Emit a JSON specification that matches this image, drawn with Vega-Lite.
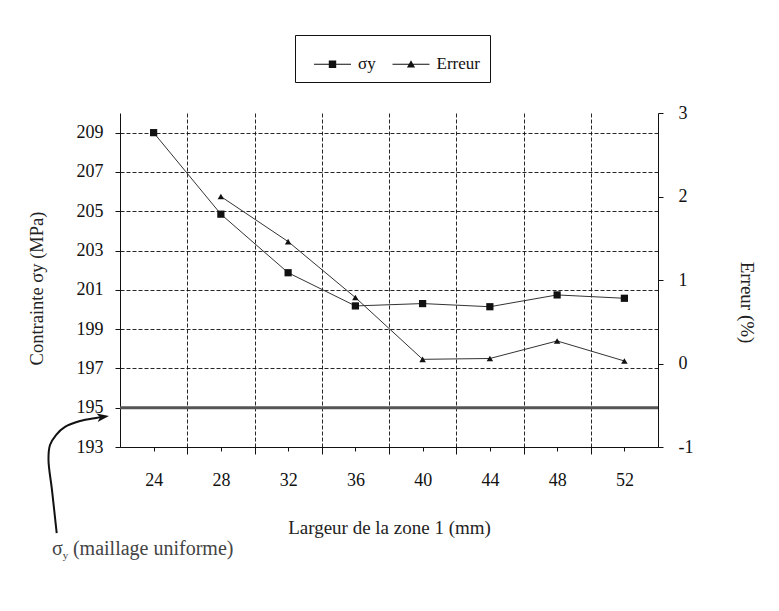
{
  "$schema": "https://vega.github.io/schema/vega-lite/v6.json",
  "width": 538,
  "height": 334,
  "autosize": {"type": "none"},
  "padding": {"left": 120, "top": 113, "right": 121, "bottom": 164},
  "background": "white",
  "config": {
    "view": {"stroke": null},
    "font": "Liberation Serif",
    "axis": {
      "labelFont": "Liberation Serif",
      "titleFont": "Liberation Serif",
      "labelColor": "#111",
      "titleColor": "#222",
      "domainColor": "#111",
      "tickColor": "#111",
      "titleFontWeight": "normal"
    }
  },
  "datasets": {
    "sigma": [
      {"largeur": 24, "sigma_y": 209.0},
      {"largeur": 28, "sigma_y": 204.85},
      {"largeur": 32, "sigma_y": 201.87},
      {"largeur": 36, "sigma_y": 200.18},
      {"largeur": 40, "sigma_y": 200.3},
      {"largeur": 44, "sigma_y": 200.14},
      {"largeur": 48, "sigma_y": 200.74},
      {"largeur": 52, "sigma_y": 200.57}
    ],
    "erreur": [
      {"largeur": 28, "erreur": 2.0},
      {"largeur": 32, "erreur": 1.46},
      {"largeur": 36, "erreur": 0.79},
      {"largeur": 40, "erreur": 0.05},
      {"largeur": 44, "erreur": 0.06},
      {"largeur": 48, "erreur": 0.27},
      {"largeur": 52, "erreur": 0.03}
    ],
    "series": [{"serie": "σy"}, {"serie": "Erreur"}],
    "courbe": [
      {"k": 0, "cx": 18.235, "cy": 188.62},
      {"k": 1, "cx": 17.955, "cy": 190.81},
      {"k": 2, "cx": 17.747, "cy": 192.34},
      {"k": 3, "cx": 17.836, "cy": 193.1},
      {"k": 4, "cx": 18.193, "cy": 193.61},
      {"k": 5, "cx": 18.729, "cy": 194.02},
      {"k": 6, "cx": 19.622, "cy": 194.32},
      {"k": 7, "cx": 20.572, "cy": 194.48},
      {"k": 8, "cx": 21.0, "cy": 194.54}
    ],
    "uniforme": [{"sigma_uniforme": 195}],
    "vide": [{}]
  },
  "resolve": {"scale": {"y": "independent"}, "axis": {"x": "independent", "y": "independent"}},
  "layer": [
    {
      "layer": [
        {
          "data": {"name": "uniforme"},
          "mark": {"type": "rule", "color": "#555", "strokeWidth": 3},
          "encoding": {
            "y": {
              "field": "sigma_uniforme", "type": "quantitative",
              "scale": {"domain": [193, 210], "nice": false, "zero": false},
              "axis": {"values": [193, 195, 197, 199, 201, 203, 205, 207, 209], "grid": true, "gridDash": [4, 2], "gridColor": "#111", "gridOpacity": 0.9, "gridWidth": 1, "tickSize": 5, "labelFontSize": 18, "labelPadding": 12, "title": "Contrainte σy (MPa)", "titleFontSize": 18.5, "titlePadding": 30, "titleY": 175}
            }
          }
        },
        {
          "data": {"name": "sigma"},
          "mark": {"type": "line", "color": "#333", "strokeWidth": 1},
          "encoding": {
            "x": {
              "field": "largeur", "type": "quantitative",
              "scale": {"domain": [22, 54], "nice": false, "zero": false},
              "axis": {"orient": "bottom", "values": [24, 28, 32, 36, 40, 44, 48, 52], "grid": false, "tickSize": 4, "labelFontSize": 18, "labelPadding": 20, "title": "Largeur de la zone 1 (mm)", "titleFontSize": 19, "titlePadding": 29}
            },
            "y": {
              "field": "sigma_y", "type": "quantitative",
              "scale": {"domain": [193, 210], "nice": false, "zero": false},
              "axis": {"values": [193, 195, 197, 199, 201, 203, 205, 207, 209], "grid": true, "gridDash": [4, 2], "gridColor": "#111", "gridOpacity": 0.9, "gridWidth": 1, "tickSize": 5, "labelFontSize": 18, "labelPadding": 12, "title": "Contrainte σy (MPa)", "titleFontSize": 18.5, "titlePadding": 30, "titleY": 175}
            }
          }
        },
        {
          "data": {"name": "sigma"},
          "mark": {"type": "point", "shape": "square", "filled": true, "color": "#111", "size": 52, "opacity": 1},
          "encoding": {
            "x": {
              "field": "largeur", "type": "quantitative",
              "scale": {"domain": [22, 54], "nice": false, "zero": false},
              "axis": {"orient": "bottom", "values": [24, 28, 32, 36, 40, 44, 48, 52], "grid": false, "tickSize": 4, "labelFontSize": 18, "labelPadding": 20, "title": "Largeur de la zone 1 (mm)", "titleFontSize": 19, "titlePadding": 29}
            },
            "y": {
              "field": "sigma_y", "type": "quantitative",
              "scale": {"domain": [193, 210], "nice": false, "zero": false},
              "axis": {"values": [193, 195, 197, 199, 201, 203, 205, 207, 209], "grid": true, "gridDash": [4, 2], "gridColor": "#111", "gridOpacity": 0.9, "gridWidth": 1, "tickSize": 5, "labelFontSize": 18, "labelPadding": 12, "title": "Contrainte σy (MPa)", "titleFontSize": 18.5, "titlePadding": 30, "titleY": 175}
            }
          }
        },
        {
          "data": {"name": "series"},
          "mark": {"type": "point", "filled": true, "color": "#111", "opacity": 0},
          "encoding": {
            "x": {
              "datum": 30, "type": "quantitative",
              "scale": {"domain": [22, 54], "nice": false, "zero": false},
              "axis": {"orient": "bottom", "values": [24, 28, 32, 36, 40, 44, 48, 52], "grid": false, "tickSize": 4, "labelFontSize": 18, "labelPadding": 20, "title": "Largeur de la zone 1 (mm)", "titleFontSize": 19, "titlePadding": 29}
            },
            "y": {
              "datum": 200, "type": "quantitative",
              "scale": {"domain": [193, 210], "nice": false, "zero": false},
              "axis": {"values": [193, 195, 197, 199, 201, 203, 205, 207, 209], "grid": true, "gridDash": [4, 2], "gridColor": "#111", "gridOpacity": 0.9, "gridWidth": 1, "tickSize": 5, "labelFontSize": 18, "labelPadding": 12, "title": "Contrainte σy (MPa)", "titleFontSize": 18.5, "titlePadding": 30, "titleY": 175}
            },
            "shape": {
              "field": "serie", "type": "nominal",
              "scale": {
                "domain": ["σy", "Erreur"],
                "range": ["M-1,-0.03H1V0.03H-1ZM-0.2,-0.2H0.2V0.2H-0.2Z", "M-1,-0.03H1V0.03H-1ZM-0.22,0.17L0,-0.22L0.22,0.17Z"]
              },
              "legend": {
                "orient": "none",
                "legendX": 175,
                "legendY": -78,
                "direction": "horizontal",
                "title": null,
                "strokeColor": "#111",
                "padding": 9.5,
                "symbolSize": 1369,
                "symbolOpacity": 1,
                "symbolOffset": 8.5,
                "symbolFillColor": "#111",
                "labelFont": "Liberation Serif",
                "labelFontSize": 17,
                "labelColor": "#111",
                "labelOffset": 6,
                "columnPadding": 6.5,
                "encode": {
                  "symbols": {"opacity": {"value": 1}, "fill": {"value": "#111"}, "strokeWidth": {"value": 0}}
                }
              }
            }
          }
        },
        {
          "data": {"name": "courbe"},
          "mark": {"type": "line", "color": "#111", "strokeWidth": 2, "interpolate": "catmull-rom", "clip": false},
          "encoding": {
            "x": {
              "field": "cx", "type": "quantitative",
              "scale": {"domain": [22, 54], "nice": false, "zero": false},
              "axis": {"orient": "bottom", "values": [24, 28, 32, 36, 40, 44, 48, 52], "grid": false, "tickSize": 4, "labelFontSize": 18, "labelPadding": 20, "title": "Largeur de la zone 1 (mm)", "titleFontSize": 19, "titlePadding": 29}
            },
            "y": {
              "field": "cy", "type": "quantitative",
              "scale": {"domain": [193, 210], "nice": false, "zero": false},
              "axis": {"values": [193, 195, 197, 199, 201, 203, 205, 207, 209], "grid": true, "gridDash": [4, 2], "gridColor": "#111", "gridOpacity": 0.9, "gridWidth": 1, "tickSize": 5, "labelFontSize": 18, "labelPadding": 12, "title": "Contrainte σy (MPa)", "titleFontSize": 18.5, "titlePadding": 30, "titleY": 175}
            },
            "order": {"field": "k", "type": "quantitative"}
          }
        },
        {
          "data": {"name": "vide"},
          "mark": {"type": "point", "shape": "M1,0L-1,-0.7L-0.5,0L-1,0.7Z", "filled": true, "color": "#111", "size": 144, "angle": -8, "opacity": 1, "clip": false},
          "encoding": {
            "x": {
              "datum": 20.99, "type": "quantitative",
              "scale": {"domain": [22, 54], "nice": false, "zero": false},
              "axis": {"orient": "bottom", "values": [24, 28, 32, 36, 40, 44, 48, 52], "grid": false, "tickSize": 4, "labelFontSize": 18, "labelPadding": 20, "title": "Largeur de la zone 1 (mm)", "titleFontSize": 19, "titlePadding": 29}
            },
            "y": {
              "datum": 194.53, "type": "quantitative",
              "scale": {"domain": [193, 210], "nice": false, "zero": false},
              "axis": {"values": [193, 195, 197, 199, 201, 203, 205, 207, 209], "grid": true, "gridDash": [4, 2], "gridColor": "#111", "gridOpacity": 0.9, "gridWidth": 1, "tickSize": 5, "labelFontSize": 18, "labelPadding": 12, "title": "Contrainte σy (MPa)", "titleFontSize": 18.5, "titlePadding": 30, "titleY": 175}
            }
          }
        },
        {
          "data": {"name": "vide"},
          "mark": {"type": "text", "text": "σ", "font": "Liberation Serif", "fontSize": 20, "color": "#444", "align": "left", "baseline": "middle", "clip": false},
          "encoding": {
            "x": {
              "datum": 17.955, "type": "quantitative",
              "scale": {"domain": [22, 54], "nice": false, "zero": false},
              "axis": {"orient": "bottom", "values": [24, 28, 32, 36, 40, 44, 48, 52], "grid": false, "tickSize": 4, "labelFontSize": 18, "labelPadding": 20, "title": "Largeur de la zone 1 (mm)", "titleFontSize": 19, "titlePadding": 29}
            },
            "y": {
              "datum": 187.81, "type": "quantitative",
              "scale": {"domain": [193, 210], "nice": false, "zero": false},
              "axis": {"values": [193, 195, 197, 199, 201, 203, 205, 207, 209], "grid": true, "gridDash": [4, 2], "gridColor": "#111", "gridOpacity": 0.9, "gridWidth": 1, "tickSize": 5, "labelFontSize": 18, "labelPadding": 12, "title": "Contrainte σy (MPa)", "titleFontSize": 18.5, "titlePadding": 30, "titleY": 175}
            }
          }
        },
        {
          "data": {"name": "vide"},
          "mark": {"type": "text", "text": "y", "font": "Liberation Serif", "fontSize": 11, "color": "#444", "align": "left", "baseline": "middle", "clip": false},
          "encoding": {
            "x": {
              "datum": 18.6, "type": "quantitative",
              "scale": {"domain": [22, 54], "nice": false, "zero": false},
              "axis": {"orient": "bottom", "values": [24, 28, 32, 36, 40, 44, 48, 52], "grid": false, "tickSize": 4, "labelFontSize": 18, "labelPadding": 20, "title": "Largeur de la zone 1 (mm)", "titleFontSize": 19, "titlePadding": 29}
            },
            "y": {
              "datum": 187.45, "type": "quantitative",
              "scale": {"domain": [193, 210], "nice": false, "zero": false},
              "axis": {"values": [193, 195, 197, 199, 201, 203, 205, 207, 209], "grid": true, "gridDash": [4, 2], "gridColor": "#111", "gridOpacity": 0.9, "gridWidth": 1, "tickSize": 5, "labelFontSize": 18, "labelPadding": 12, "title": "Contrainte σy (MPa)", "titleFontSize": 18.5, "titlePadding": 30, "titleY": 175}
            }
          }
        },
        {
          "data": {"name": "vide"},
          "mark": {"type": "text", "text": "(maillage uniforme)", "font": "Liberation Serif", "fontSize": 20, "color": "#444", "align": "left", "baseline": "middle", "clip": false},
          "encoding": {
            "x": {
              "datum": 19.2, "type": "quantitative",
              "scale": {"domain": [22, 54], "nice": false, "zero": false},
              "axis": {"orient": "bottom", "values": [24, 28, 32, 36, 40, 44, 48, 52], "grid": false, "tickSize": 4, "labelFontSize": 18, "labelPadding": 20, "title": "Largeur de la zone 1 (mm)", "titleFontSize": 19, "titlePadding": 29}
            },
            "y": {
              "datum": 187.81, "type": "quantitative",
              "scale": {"domain": [193, 210], "nice": false, "zero": false},
              "axis": {"values": [193, 195, 197, 199, 201, 203, 205, 207, 209], "grid": true, "gridDash": [4, 2], "gridColor": "#111", "gridOpacity": 0.9, "gridWidth": 1, "tickSize": 5, "labelFontSize": 18, "labelPadding": 12, "title": "Contrainte σy (MPa)", "titleFontSize": 18.5, "titlePadding": 30, "titleY": 175}
            }
          }
        }
      ]
    },
    {
      "layer": [
        {
          "data": {"name": "erreur"},
          "mark": {"type": "line", "color": "#333", "strokeWidth": 1},
          "encoding": {
            "x": {
              "field": "largeur", "type": "quantitative",
              "scale": {"domain": [22, 54], "nice": false, "zero": false},
              "axis": {"orient": "bottom", "values": [26, 30, 34, 38, 42, 46, 50], "grid": true, "gridDash": [4, 2], "gridColor": "#111", "gridOpacity": 0.9, "gridWidth": 1, "labels": false, "domain": false, "tickSize": 7, "title": null}
            },
            "y": {
              "field": "erreur", "type": "quantitative",
              "scale": {"domain": [-1, 3], "nice": false, "zero": false},
              "axis": {"orient": "right", "values": [-1, 0, 1, 2, 3], "labelExpr": "'' + datum.value", "grid": false, "tickSize": 5, "labelFontSize": 18, "labelPadding": 15, "title": "Erreur (%)", "titleFontSize": 19, "titlePadding": 44, "titleY": 189}
            }
          }
        },
        {
          "data": {"name": "erreur"},
          "mark": {"type": "point", "shape": "triangle-up", "filled": true, "color": "#111", "size": 42, "opacity": 1},
          "encoding": {
            "x": {
              "field": "largeur", "type": "quantitative",
              "scale": {"domain": [22, 54], "nice": false, "zero": false},
              "axis": {"orient": "bottom", "values": [26, 30, 34, 38, 42, 46, 50], "grid": true, "gridDash": [4, 2], "gridColor": "#111", "gridOpacity": 0.9, "gridWidth": 1, "labels": false, "domain": false, "tickSize": 7, "title": null}
            },
            "y": {
              "field": "erreur", "type": "quantitative",
              "scale": {"domain": [-1, 3], "nice": false, "zero": false},
              "axis": {"orient": "right", "values": [-1, 0, 1, 2, 3], "labelExpr": "'' + datum.value", "grid": false, "tickSize": 5, "labelFontSize": 18, "labelPadding": 15, "title": "Erreur (%)", "titleFontSize": 19, "titlePadding": 44, "titleY": 189}
            }
          }
        }
      ]
    }
  ]
}
